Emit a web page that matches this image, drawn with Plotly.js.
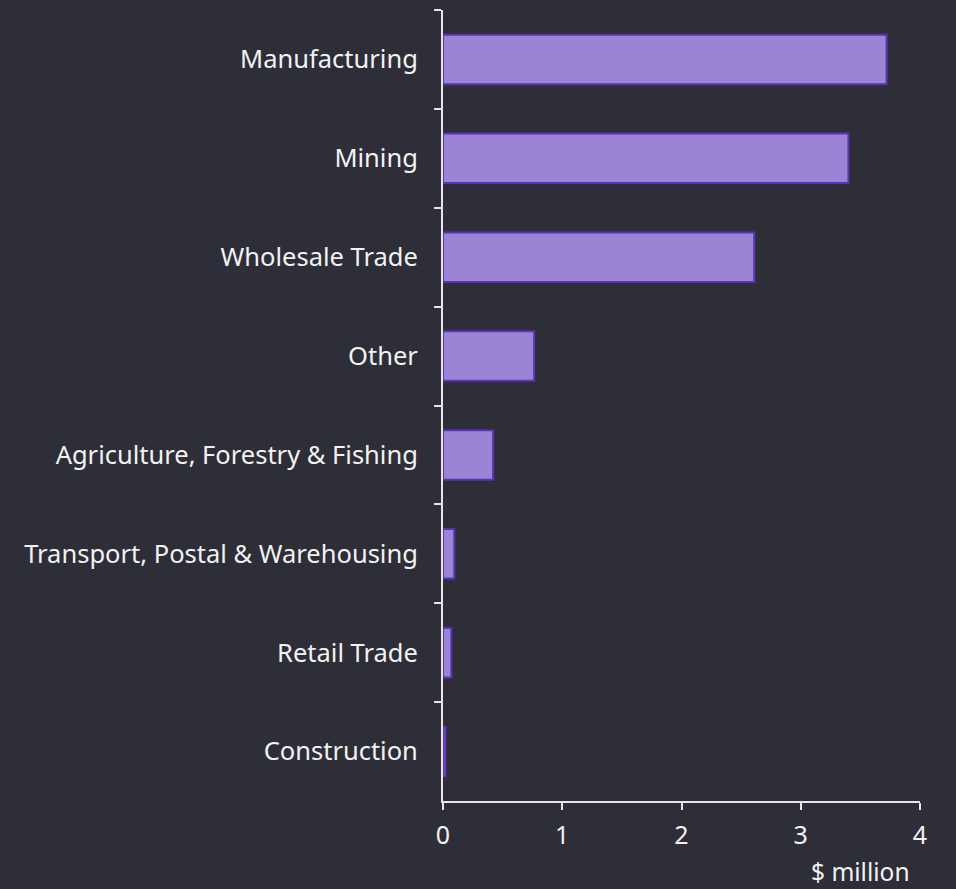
<!DOCTYPE html>
<html>
<head>
<meta charset="utf-8">
<script src="https://cdn.plot.ly/plotly-3.0.1.min.js"></script>
<style>
  html, body { margin: 0; padding: 0; background: #2e2e38; }
  #chart { width: 956px; height: 889px; }
</style>
</head>
<body>
<div id="chart"></div>
<script>
const categories = [
  "Manufacturing",
  "Mining",
  "Wholesale Trade",
  "Other",
  "Agriculture, Forestry & Fishing",
  "Transport, Postal & Warehousing",
  "Retail Trade",
  "Construction"
];
const values = [3.72, 3.40, 2.61, 0.765, 0.42, 0.095, 0.07, 0.02];
const xTickValues = [0, 1, 2, 3, 4];
const xAxisLabel = "$ million";

const textColor = "#f2f2f2";
const axisColor = "#e6e6e6";
const fontFamily = "'Noto Sans', 'Open Sans', sans-serif";

const trace = {
  type: "bar",
  orientation: "h",
  y: categories,
  x: values,
  marker: {
    color: "#9b84d6",
    line: { color: "#5a32b4", width: 2 }
  },
  hoverinfo: "x+y"
};

const layout = {
  width: 956,
  height: 889,
  paper_bgcolor: "#2e2e38",
  plot_bgcolor: "#2e2e38",
  margin: { l: 443, r: 36, t: 10, b: 88 },
  showlegend: false,
  bargap: 0.5,
  font: { family: fontFamily, color: textColor, size: 25 },
  xaxis: {
    range: [0, 4],
    tickvals: xTickValues,
    ticktext: xTickValues.map(String),
    ticks: "outside",
    ticklen: 7,
    tickwidth: 2,
    tickcolor: axisColor,
    showline: true,
    linecolor: axisColor,
    linewidth: 2,
    showgrid: false,
    zeroline: false,
    ticklabelstandoff: 4,
    tickfont: { family: fontFamily, color: textColor, size: 25 }
  },
  yaxis: {
    type: "category",
    autorange: "reversed",
    tickson: "boundaries",
    ticks: "outside",
    ticklen: 7,
    tickwidth: 2,
    tickcolor: axisColor,
    showline: true,
    linecolor: axisColor,
    linewidth: 2,
    showgrid: false,
    zeroline: false,
    ticklabelstandoff: 18,
    tickfont: { family: fontFamily, color: textColor, size: 25.5 }
  },
  annotations: [{
    text: xAxisLabel,
    xref: "paper", yref: "paper",
    x: 1, y: -0.0885,
    xanchor: "right", yanchor: "middle",
    xshift: -8,
    showarrow: false,
    font: { family: fontFamily, color: textColor, size: 24.5 }
  }]
};

Plotly.newPlot("chart", [trace], layout, { displayModeBar: false, staticPlot: true });
</script>
</body>
</html>
